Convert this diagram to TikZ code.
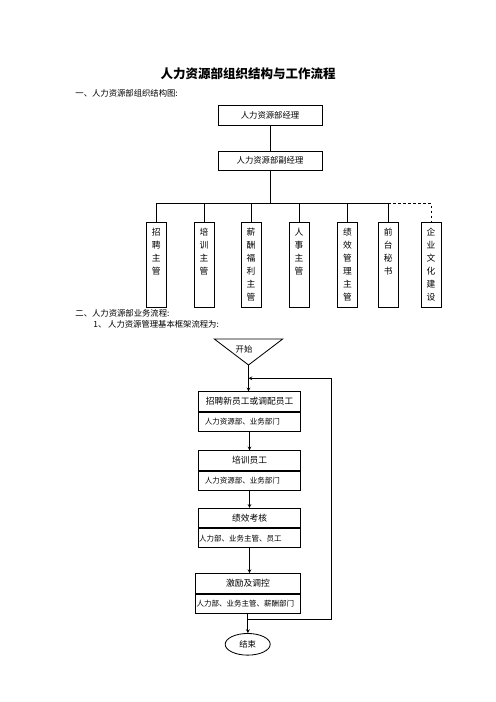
\documentclass[tikz,border=0pt]{standalone}
\usepackage{fontspec}
\setmainfont{Noto Sans CJK SC}
\usetikzlibrary{shapes.geometric,positioning}
% vertical text in the small boxes
\newcommand{\shuxiang}[1]{\parbox[c][88pt][t]{14pt}{\centering\fontsize{10.5}{15.6}\selectfont #1}}
\begin{document}
\begin{tikzpicture}[x=1.2pt,y=-1.2pt,>=stealth,line width=1pt,font=\fontsize{10}{12}\selectfont,
	kuang/.style={draw,minimum width=124.8pt,minimum height=24pt,inner sep=0pt},
	shu/.style={draw,anchor=north,inner xsep=5pt,inner ysep=7pt},
	biaoti/.style={draw,minimum width=122.9pt,minimum height=23.5pt,inner sep=0pt,font=\fontsize{10.5}{12.6}\selectfont},
	beizhu/.style={draw,minimum height=23pt,inner xsep=8pt,text width=106.9pt,align=left,font=\fontsize{9}{10.8}\selectfont},
	wenzi/.style={anchor=west,inner sep=0pt}]
	\useasboundingbox (0,0) rectangle (496,702);
	\node[font=\bfseries\fontsize{15}{18}\selectfont] (bt) at (248,73.3) {人力资源部组织结构与工作流程};
	\node[wenzi] (t1) at (75,93.3) {一、人力资源部组织结构图:};
	% org chart
	\node[kuang] (jl) at (270,115) {人力资源部经理};
	\node[kuang,minimum height=22.8pt] (fjl) at (270,160.5) {人力资源部副经理};
	\coordinate (zx) at (270,203.3);
	\node[shu] (z1) at (156.3,222.3) {\shuxiang{招\\聘\\主\\管}};
	\node[shu] (z2) at (204,222.3) {\shuxiang{培\\训\\主\\管}};
	\node[shu] (z3) at (251,222.3) {\shuxiang{薪\\酬\\福\\利\\主\\管}};
	\node[shu] (z4) at (299,222.3) {\shuxiang{人\\事\\主\\管}};
	\node[shu] (z5) at (347.5,222.3) {\shuxiang{绩\\效\\管\\理\\主\\管}};
	\node[shu] (z6) at (388.3,222.3) {\shuxiang{前\\台\\秘\\书}};
	\node[shu] (z7) at (431,222.3) {\shuxiang{企\\业\\文\\化\\建\\设}};
	\draw (jl) -- (fjl);
	\draw (fjl) -- (zx);
	\draw (z1.north |- zx) -- (z6.north |- zx);
	\foreach \i in {1,...,6} \draw (z\i.north) -- (z\i.north |- zx);
	\draw[dashed] (z6.north |- zx) -| (z7.north);
	% flow
	\node[wenzi] (t2) at (75,313.3) {二、人力资源部业务流程:};
	\node[wenzi] (t3) at (93,324) {1、 人力资源管理基本框架流程为:};
	\draw (214.3,339) -- (282.7,339) -- (248.5,365) -- cycle;
	\coordinate (ksd) at (248.5,365);
	\node (ks) at (244,349) {开始};
	\node[biaoti] (b1t) at (249.5,401.5) {招聘新员工或调配员工};
	\node[beizhu,below=0pt of b1t] (b1s) {人力资源部、业务部门};
	\node[biaoti] (b2t) at (249.5,460.5) {培训员工};
	\node[beizhu,below=0pt of b2t] (b2s) {人力资源部、业务部门};
	\node[biaoti] (b3t) at (249.5,518) {绩效考核};
	\node[beizhu,below=0pt of b3t,inner xsep=1pt,text width=120.9pt] (b3s) {人力部、业务主管、员工};
	\node[biaoti,minimum width=126.8pt] (b4t) at (247.9,583.3) {激励及调控};
	\node[beizhu,below=0pt of b4t,inner xsep=2pt,text width=122.8pt] (b4s) {人力部、业务主管、薪酬部门};
	\node[draw,ellipse,minimum width=54pt,minimum height=26pt,inner sep=0pt] (js) at (247.7,644.3) {结束};
	\draw[->] (ksd) -- (ksd |- b1t.north);
	\draw[->] (b1s.south) -- (b1s.south |- b2t.north);
	\draw[->] (b2s.south) -- (b2s.south |- b3t.north);
	\draw[->] (b3s.south) -- (b3s.south |- b4t.north);
	\draw[->] (b4s.south) -- (b4s.south |- js.north);
	\coordinate (hy) at (331,619);
	\coordinate (hs) at (331,378.3);
	\draw[->] (hy -| b4s.south) -- (hy) -- (hs) -- (hs -| ksd);
\end{tikzpicture}
\end{document}
